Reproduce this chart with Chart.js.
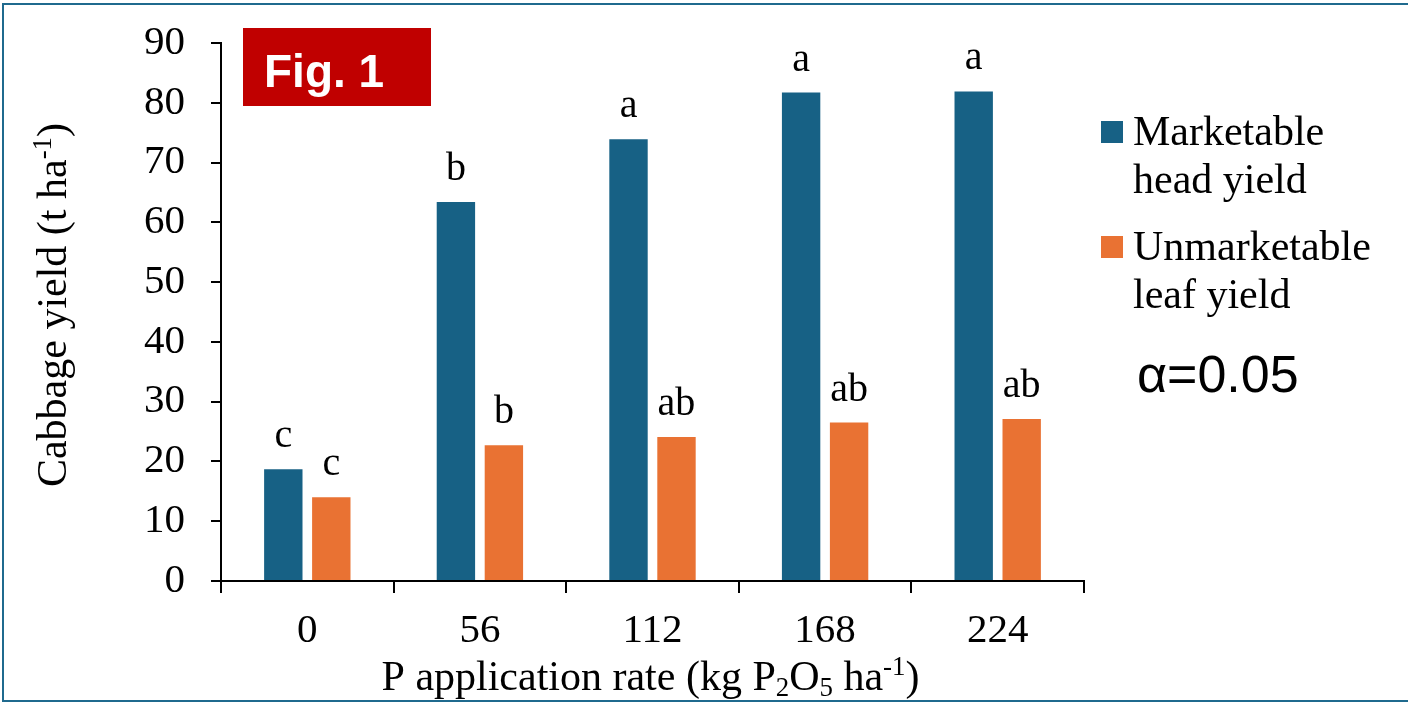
<!DOCTYPE html>
<html>
<head>
<meta charset="utf-8">
<title>Cabbage yield vs P application rate</title>
<script src="https://cdn.jsdelivr.net/npm/chart.js@4.4.1/dist/chart.umd.min.js"></script>
<style>
  html, body { margin: 0; padding: 0; background: #ffffff; }
  canvas { display: block; }
</style>
</head>
<body>
<canvas id="yieldChart" width="1408" height="703"></canvas>
<script>
// P application rates (kg P2O5 ha-1)
const categories = ['0', '56', '112', '168', '224'];

// Yields (t ha-1)
const marketable = [18.7, 63.4, 73.9, 81.7, 81.9];
const unmarketable = [14.0, 22.7, 24.1, 26.5, 27.1];

// Mean separation letters (alpha = 0.05)
const marketableLetters = ['c', 'b', 'a', 'a', 'a'];
const unmarketableLetters = ['c', 'b', 'ab', 'ab', 'ab'];

// Legend entries, one line per array item
const seriesNames = [['Marketable', 'head yield'], ['Unmarketable', 'leaf yield']];

// Y axis range
const yMin = 0;
const yMax = 90;
const yStep = 10;

const figLabel = 'Fig. 1';
const alphaNote = 'α=0.05';

const SERIF = '"Liberation Serif", "Times New Roman", serif';
const SANS = '"Liberation Sans", Arial, sans-serif';
const BLUE = '#176185';
const ORANGE = '#E97233';

// Draws a run list with sub/superscripts
function drawRuns(ctx, runs, x, y, size, align) {
  const small = size * 0.64;
  let total = 0;
  const widths = runs.map(r => {
    ctx.font = `${(r.sup || r.sub) ? small : size}px ${SERIF}`;
    const w = ctx.measureText(r.t).width;
    total += w;
    return w;
  });
  let cx = align === 'center' ? x - total / 2 : x;
  ctx.textAlign = 'left';
  ctx.textBaseline = 'alphabetic';
  runs.forEach((r, i) => {
    ctx.font = `${(r.sup || r.sub) ? small : size}px ${SERIF}`;
    let dy = 0;
    if (r.sup) dy = -size * 0.36;
    if (r.sub) dy = size * 0.15;
    ctx.fillText(r.t, cx, y + dy);
    cx += widths[i];
  });
}

const xTitleRuns = [
  { t: 'P application rate (kg P' }, { t: '2', sub: true }, { t: 'O' },
  { t: '5', sub: true }, { t: ' ha' }, { t: '-1', sup: true }, { t: ')' }
];
const yTitleRuns = [
  { t: 'Cabbage yield (t ha' }, { t: '-1', sup: true }, { t: ')' }
];

// Outer frame, figure badge, letters, axis titles and legend
const decorations = {
  id: 'decorations',
  afterDraw(chart) {
    const ctx = chart.ctx;
    const area = chart.chartArea;
    ctx.save();

    // frame
    ctx.strokeStyle = '#1F6A8E';
    ctx.lineWidth = 2;
    ctx.beginPath();
    ctx.moveTo(1408, 4); ctx.lineTo(3, 4); ctx.lineTo(3, 701); ctx.lineTo(1408, 701);
    ctx.stroke();

    // figure badge
    ctx.fillStyle = '#C00000';
    ctx.fillRect(243, 28, 188, 78);
    ctx.fillStyle = '#ffffff';
    ctx.font = `bold 46px ${SANS}`;
    ctx.textAlign = 'left';
    ctx.textBaseline = 'alphabetic';
    ctx.fillText(figLabel, 264, 87);

    // significance letters above bars
    const letterSets = [marketableLetters, unmarketableLetters];
    ctx.fillStyle = '#000000';
    ctx.font = `40px ${SERIF}`;
    ctx.textAlign = 'center';
    ctx.textBaseline = 'alphabetic';
    letterSets.forEach((letters, di) => {
      chart.getDatasetMeta(di).data.forEach((bar, i) => {
        ctx.fillText(letters[i], bar.x, bar.y - 22);
      });
    });

    // axis titles
    ctx.fillStyle = '#000000';
    drawRuns(ctx, xTitleRuns, (area.left + area.right) / 2 - 2, 690, 42, 'center');
    ctx.save();
    ctx.translate(66, (area.top + area.bottom) / 2 - 7);
    ctx.rotate(-Math.PI / 2);
    drawRuns(ctx, yTitleRuns, 0, 0, 42, 'center');
    ctx.restore();

    // legend
    const colors = chart.data.datasets.map(d => d.backgroundColor);
    const entryTops = [145, 260];
    ctx.font = `42px ${SERIF}`;
    ctx.textAlign = 'left';
    seriesNames.forEach((lines, i) => {
      const base = entryTops[i];
      ctx.fillStyle = colors[i];
      ctx.fillRect(1101, base - 24, 22, 22);
      ctx.fillStyle = '#000000';
      lines.forEach((ln, k) => ctx.fillText(ln, 1133, base + k * 48));
    });

    // alpha note
    ctx.font = `52px ${SANS}`;
    ctx.fillText(alphaNote, 1137, 392);

    ctx.restore();
  }
};

new Chart(document.getElementById('yieldChart'), {
  type: 'bar',
  data: {
    labels: categories,
    datasets: [
      {
        label: seriesNames[0].join(' '),
        data: marketable,
        backgroundColor: BLUE,
        categoryPercentage: 0.556,
        barPercentage: 0.8
      },
      {
        label: seriesNames[1].join(' '),
        data: unmarketable,
        backgroundColor: ORANGE,
        categoryPercentage: 0.556,
        barPercentage: 0.8
      }
    ]
  },
  options: {
    responsive: false,
    animation: false,
    devicePixelRatio: 1,
    layout: { padding: { left: 0, top: 43, right: 324, bottom: 0 } },
    plugins: {
      legend: { display: false },
      tooltip: { enabled: false },
      title: { display: false }
    },
    scales: {
      x: {
        grid: {
          offset: true,
          drawOnChartArea: false,
          drawTicks: true,
          tickLength: 12,
          color: '#000000',
          lineWidth: 2
        },
        border: { display: true, color: '#000000', width: 2 },
        ticks: {
          color: '#000000',
          font: { family: SERIF, size: 41 },
          padding: 14
        },
        afterFit(scale) { scale.height = 122; }
      },
      y: {
        min: yMin,
        max: yMax,
        grid: {
          drawOnChartArea: false,
          drawTicks: true,
          tickLength: 10,
          color: '#000000',
          lineWidth: 2
        },
        border: { display: true, color: '#000000', width: 2 },
        ticks: {
          stepSize: yStep,
          color: '#000000',
          font: { family: SERIF, size: 41 },
          padding: 26
        },
        afterFit(scale) {
          scale.width = 221;
          // plot area edges come from the layout padding alone
          scale.paddingTop = 0;
          scale.paddingBottom = 0;
        }
      }
    }
  },
  plugins: [decorations]
});
</script>
</body>
</html>
